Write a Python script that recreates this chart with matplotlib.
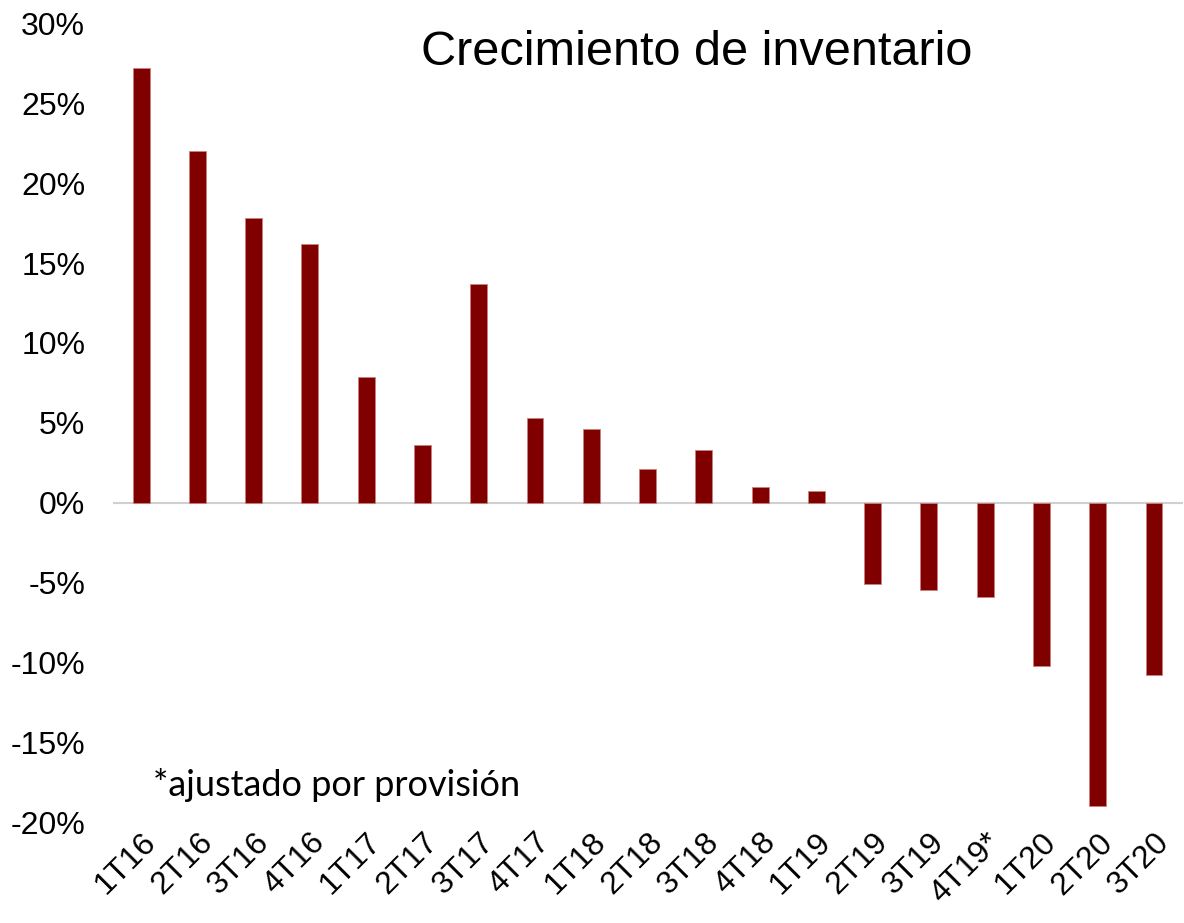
import matplotlib.pyplot as plt
from matplotlib.ticker import FuncFormatter, MultipleLocator

quarters = ["1T16", "2T16", "3T16", "4T16", "1T17", "2T17", "3T17", "4T17",
            "1T18", "2T18", "3T18", "4T18", "1T19", "2T19", "3T19", "4T19*",
            "1T20", "2T20", "3T20"]
growth = [27.2, 22.0, 17.8, 16.2, 7.9, 3.6, 13.7, 5.3, 4.6, 2.1, 3.3, 1.0,
          0.75, -5.1, -5.5, -5.9, -10.2, -19.0, -10.8]

plt.rcParams['font.family'] = ['Liberation Sans', 'DejaVu Sans']

fig = plt.figure(figsize=(11.84, 9.23), dpi=100)
ax = fig.add_axes([0.0954, 0.1094, 0.904, 0.865])

x = range(len(quarters))
ax.bar(x, growth, width=0.3, color='#800000', edgecolor='#c98080', linewidth=0.6, zorder=3)
ax.axhline(0, color='#d0d0d0', linewidth=1.5, zorder=2)

ax.set_ylim(-20, 30)
ax.set_xlim(-0.5, len(quarters) - 0.48)
ax.yaxis.set_major_locator(MultipleLocator(5))
ax.yaxis.set_major_formatter(FuncFormatter(lambda v, p: f"{v:.0f}%"))
ax.tick_params(axis='y', length=0, pad=20, labelsize=23)
ax.tick_params(axis='x', length=0, pad=4, labelsize=23)
ax.set_xticks(list(x))
ax.set_xticklabels(quarters, rotation=45, ha='right', rotation_mode='anchor')
for s in ax.spines.values():
    s.set_visible(False)

ax.text(0.545, 0.964, "Crecimiento de inventario", transform=ax.transAxes,
        ha='center', va='center', fontsize=35)
ax.text(0.037, 0.046, "*ajustado por provisión", transform=ax.transAxes,
        ha='left', va='center', fontsize=26, family=['Lato', 'DejaVu Sans'])

fig.savefig("out.png", dpi=100)
